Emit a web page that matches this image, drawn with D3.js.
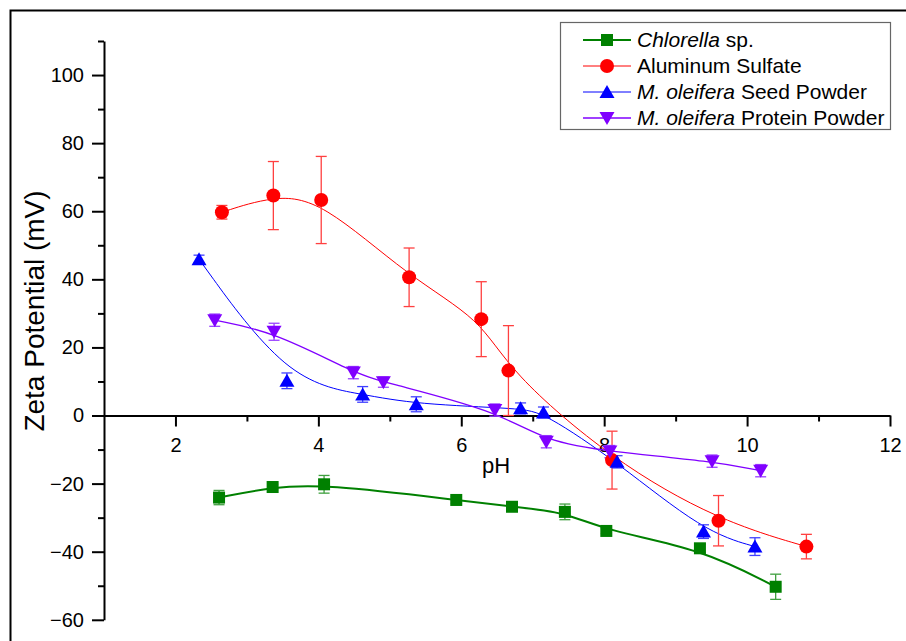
<!DOCTYPE html>
<html>
<head>
<meta charset="utf-8">
<script src="https://cdn.jsdelivr.net/npm/d3@7"></script>
<style>
  html, body { margin: 0; padding: 0; background: #fff; }
  svg { display: block; font-family: "Liberation Sans", Arial, sans-serif; }
</style>
</head>
<body>
<svg id="chart" width="906" height="641"></svg>
<script>
// ---- Data ----
const chlorellaPH   = [2.61, 3.36, 4.08, 5.93, 6.71, 7.45, 8.03, 9.34, 10.40];
const chlorellaZeta = [-24.1, -21.0, -20.2, -24.8, -26.8, -28.3, -33.9, -39.0, -50.3];
const chlorellaErr  = [2.1, 0.8, 2.6, 1.0, 0.8, 2.3, 0.8, 1.2, 3.7];

const alumPH   = [2.65, 3.37, 4.04, 5.27, 6.28, 6.66, 8.11, 9.60, 10.83];
const alumZeta = [59.7, 64.6, 63.3, 40.6, 28.3, 13.2, -13.1, -30.9, -38.5];
const alumErr  = [2.0, 10.0, 12.8, 8.6, 11.0, 13.2, 8.5, 7.4, 3.6];

const seedPH   = [2.33, 3.56, 4.62, 5.37, 6.83, 7.15, 8.18, 9.39, 10.11];
const seedZeta = [45.9, 10.2, 6.2, 3.3, 2.1, 0.9, -13.6, -34.1, -38.5];
const seedErr  = [1.2, 2.3, 2.3, 2.2, 1.6, 1.6, 1.8, 2.0, 2.6];

const proteinPH   = [2.55, 3.38, 4.49, 4.91, 6.47, 7.19, 8.08, 9.51, 10.19];
const proteinZeta = [28.0, 24.6, 12.6, 9.8, 1.6, -7.7, -10.6, -13.4, -16.2];
const proteinErr  = [1.8, 2.5, 1.8, 1.5, 1.8, 1.8, 1.8, 1.8, 1.8];

const xMajorTicks = [2, 4, 6, 8, 10, 12];
const xMinorTicks = [3, 5, 7, 9, 11];
const yMajorTicks = [-60, -40, -20, 0, 20, 40, 60, 80, 100];
const yMinorTicks = [-50, -30, -10, 10, 30, 50, 70, 90, 110];

const seriesNames = ["Chlorella sp.", "Aluminum Sulfate", "M. oleifera Seed Powder", "M. oleifera Protein Powder"];

// ---- Build series ----
const zip = (xs, ys, es) => xs.map((x, i) => ({x, y: ys[i], e: es[i]}));
const series = [
  {name: seriesNames[0], italic: "Chlorella", rest: " sp.", color: "#008000", errColor: "#3f9f3f", lw: 2, shape: "square", data: zip(chlorellaPH, chlorellaZeta, chlorellaErr)},
  {name: seriesNames[1], italic: "", rest: "Aluminum Sulfate", color: "#ff0000", errColor: "#ff4040", lw: 1, shape: "circle", data: zip(alumPH, alumZeta, alumErr)},
  {name: seriesNames[2], italic: "M. oleifera", rest: " Seed Powder", color: "#0000ff", errColor: "#4040ff", lw: 1, shape: "up", data: zip(seedPH, seedZeta, seedErr)},
  {name: seriesNames[3], italic: "M. oleifera", rest: " Protein Powder", color: "#8000ff", errColor: "#9a40ff", lw: 1.3, shape: "down", data: zip(proteinPH, proteinZeta, proteinErr)}
];

// ---- Layout ----
const svg = d3.select("#chart");
const x = d3.scaleLinear().domain([1, 12]).range([104, 890]);
const y = d3.scaleLinear().domain([-60, 110]).range([619.8, 41]);

// outer frame
svg.append("rect").attr("x", 10.5).attr("y", 10.5).attr("width", 1000).attr("height", 1000)
  .attr("fill", "none").attr("stroke", "#000").attr("stroke-width", 2);

// ---- Axes ----
const yAxisG = svg.append("g").attr("transform", `translate(${x(1)},0)`);
yAxisG.call(d3.axisLeft(y).tickValues(yMajorTicks).tickSize(12).tickPadding(8).tickSizeOuter(0).tickFormat(d3.format("d")));
const yMinorG = svg.append("g").attr("transform", `translate(${x(1)},0)`);
yMinorG.call(d3.axisLeft(y).tickValues(yMinorTicks).tickSize(6).tickSizeOuter(0).tickFormat(""));
yMinorG.select(".domain").remove();

const xAxisG = svg.append("g").attr("transform", `translate(0,${y(0)})`);
xAxisG.call(d3.axisBottom(x).tickValues(xMajorTicks).tickSize(11).tickSizeOuter(0).tickFormat(d3.format("d")));
xAxisG.selectAll("text").attr("dy", null).attr("y", 36);
const xMinorG = svg.append("g").attr("transform", `translate(0,${y(0)})`);
xMinorG.call(d3.axisBottom(x).tickValues(xMinorTicks).tickSize(6).tickSizeOuter(0).tickFormat(""));
xMinorG.select(".domain").remove();

svg.selectAll(".domain, .tick line").attr("stroke", "#000").attr("stroke-width", 2);
svg.selectAll(".tick text").attr("font-size", 20).attr("fill", "#000")
  .attr("font-family", "'Liberation Sans', Arial, sans-serif");

// axis titles
svg.append("text").attr("x", 496).attr("y", 473).attr("text-anchor", "middle")
  .attr("font-size", 22).text("pH");
svg.append("text").attr("transform", "translate(44,311) rotate(-90)").attr("text-anchor", "middle")
  .attr("font-size", 28).text("Zeta Potential (mV)");

// ---- Marker helper ----
function drawMarker(g, shape, cx, cy, color) {
  if (shape === "circle") {
    g.append("circle").attr("cx", cx).attr("cy", cy).attr("r", 7).attr("fill", color);
  } else if (shape === "square") {
    g.append("rect").attr("x", cx - 6).attr("y", cy - 6).attr("width", 12).attr("height", 12).attr("fill", color);
  } else if (shape === "up") {
    g.append("path").attr("d", `M${cx},${cy - 7}L${cx + 7.5},${cy + 6}L${cx - 7.5},${cy + 6}Z`).attr("fill", color);
  } else {
    g.append("path").attr("d", `M${cx},${cy + 7}L${cx + 7.5},${cy - 6}L${cx - 7.5},${cy - 6}Z`).attr("fill", color);
  }
}

const line = d3.line().x(d => x(d.x)).y(d => y(d.y)).curve(d3.curveBasis);

// draw order: lines, then error bars, then markers
const plotG = svg.append("g");
series.forEach(s => {
  plotG.append("path").datum(s.data).attr("d", line).attr("fill", "none")
    .attr("stroke", s.color).attr("stroke-width", s.lw);
});
series.forEach(s => {
  const eg = plotG.append("g").attr("stroke", s.errColor).attr("stroke-width", 1.3);
  s.data.forEach(d => {
    const cx = x(d.x), y1 = y(d.y + d.e), y2 = y(d.y - d.e);
    eg.append("line").attr("x1", cx).attr("x2", cx).attr("y1", y1).attr("y2", y2);
    eg.append("line").attr("x1", cx - 5.5).attr("x2", cx + 5.5).attr("y1", y1).attr("y2", y1);
    eg.append("line").attr("x1", cx - 5.5).attr("x2", cx + 5.5).attr("y1", y2).attr("y2", y2);
  });
});
series.forEach(s => {
  const mg = plotG.append("g");
  s.data.forEach(d => drawMarker(mg, s.shape, x(d.x), y(d.y), s.color));
});

// ---- Legend ----
const lg = svg.append("g");
lg.append("rect").attr("x", 560.5).attr("y", 22.5).attr("width", 330).attr("height", 107)
  .attr("fill", "#fff").attr("stroke", "#666").attr("stroke-width", 1.2);
const rowY = [40, 66, 92, 118];
series.forEach((s, i) => {
  const cy = rowY[i];
  lg.append("line").attr("x1", 583).attr("x2", 631).attr("y1", cy).attr("y2", cy)
    .attr("stroke", s.color).attr("stroke-width", s.lw);
  drawMarker(lg, s.shape, 607, cy, s.color);
  const t = lg.append("text").attr("x", 637).attr("y", cy + 7).attr("font-size", 21).attr("fill", "#000");
  if (s.italic) t.append("tspan").attr("font-style", "italic").text(s.italic);
  t.append("tspan").text(s.rest);
});
</script>
</body>
</html>
